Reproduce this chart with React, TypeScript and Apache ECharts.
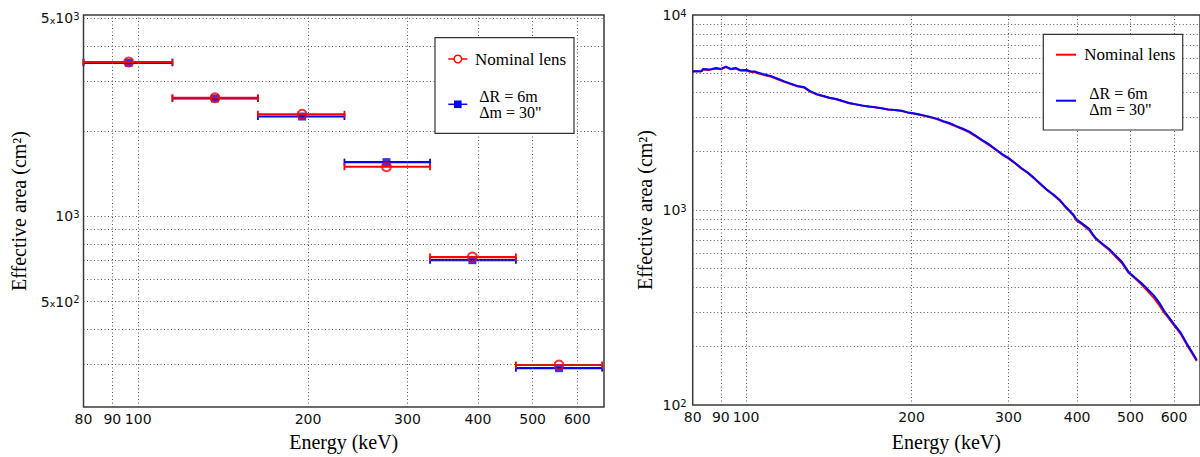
import React, { useEffect, useRef } from 'react';
import * as echarts from 'echarts';

// ---------- data ----------
// left panel: binned effective area
const binLow = [80, 115, 163, 232, 329, 467];
const binHigh = [115, 163, 232, 329, 467, 664];
const binCenter = [96.2, 136.8, 195.2, 275.4, 391, 556.7];
const nominalBinned = [3510, 2624, 2295, 1498, 718.5, 299];
const modifiedBinned = [3487, 2610, 2253, 1555, 701, 291.4];

// right panel: effective area curves
const energies = [
  80, 83, 83.5, 85.8, 88.2, 90, 91.9, 93.8, 95.7, 97.7,
  100.1, 101.8, 103.8, 105.3, 108.2, 111.1, 114.2, 117.4, 120.6, 123.9,
  127.3, 130.8, 134.5, 138.2, 141.9, 145.9, 149.9, 154, 158.2, 162.6,
  167.1, 171.7, 176.5, 181.3, 186.3, 191.4, 196.7, 200.2, 204.9, 210.5,
  216.3, 222.3, 228.4, 234.7, 241.2, 247.9, 254.7, 261.7, 268.9, 276.3,
  283.9, 291.7, 299.8, 308, 316.5, 325.2, 334.2, 343.4, 352.8, 362.5,
  372.5, 382.8, 393.3, 398.8, 409.8, 415.4, 421.1, 426.8, 432.7, 444.6,
  456.8, 469.4, 482.3, 495.6, 509.3, 523.3, 537.7, 552.5, 563.9, 575.6,
  583.4, 599.5, 616, 633, 660,
];
const modifiedCurve = [
  5149, 5149, 5289, 5248, 5351, 5289, 5434, 5289, 5351, 5208,
  5228, 5149, 5129, 5051, 4954, 4859, 4712, 4568, 4446, 4327,
  4278, 4068, 3929, 3840, 3766, 3708, 3623, 3541, 3486, 3433,
  3393, 3368, 3329, 3278, 3258, 3232, 3166, 3141, 3106, 3056,
  2999, 2941, 2852, 2787, 2692, 2610, 2521, 2398, 2280, 2177,
  2055, 1940, 1851, 1747, 1643, 1556, 1457, 1359, 1268, 1197,
  1121, 1026, 950, 896, 846, 822, 798, 753, 716, 671,
  633, 586, 543, 483, 451, 422, 391, 362, 335, 304,
  289, 260.6, 236.6, 206.7, 170,
];
const nominalCurve = [
  5130, 5140, 5260, 5230, 5320, 5270, 5400, 5270, 5320, 5190,
  5200, 5120, 5090, 5010, 4910, 4820, 4680, 4540, 4420, 4310,
  4250, 4050, 3910, 3830, 3750, 3700, 3610, 3530, 3480, 3430,
  3390, 3360, 3320, 3280, 3255, 3225, 3160, 3130, 3095, 3045,
  2985, 2925, 2840, 2770, 2680, 2595, 2500, 2385, 2265, 2160,
  2045, 1930, 1840, 1740, 1635, 1550, 1450, 1350, 1262, 1190,
  1112, 1018, 942, 885, 838, 812, 785, 745, 710, 665,
  625, 578, 535, 478, 447, 416, 383, 352, 325, 298,
  285, 257, 233, 204, 168,
];

// ticks / gridlines
const xTicks = [80, 90, 100, 200, 300, 400, 500, 600];
const xTickLabels = ['80', '90', '100', '200', '300', '400', '500', '600'];
const leftYGrid = [300, 400, 600, 700, 800, 900, 2000, 3000, 4000];
const leftYLabelled = [500, 1000, 5000];
const leftYLabels = ['{b|5}{x|x}{b|10}{s|2}', '{b|10}{s|3}', '{b|5}{x|x}{b|10}{s|3}'];
const rightYGrid = [200, 300, 400, 500, 600, 700, 800, 900, 2000, 3000, 4000, 5000, 6000, 7000, 8000, 9000];
const rightYLabelled = [100, 1000, 10000];
const rightYLabels = ['{b|10}{s|2}', '{b|10}{s|3}', '{b|10}{s|4}'];

const legendNominal = 'Nominal lens';
const legendShift = ['ΔR = 6m', 'Δm = 30"'];

const RED = '#ff0000';
const BLUE = '#0000ff';
const SANS = 'DejaVu Sans';
const SERIF = 'Liberation Serif';
const CLEAR = 'rgba(0,0,0,0)';

const tickRich = {
  b: { fontFamily: SANS, fontSize: 14, color: '#111' },
  x: { fontFamily: SANS, fontSize: 9.5, color: '#111', verticalAlign: 'bottom' },
  s: { fontFamily: SANS, fontSize: 10, color: '#111', verticalAlign: 'top' },
};

function xMarks(edge: number) {
  return xTicks.map((v, i) => ({
    xAxis: v,
    label: {
      show: true,
      formatter: xTickLabels[i],
      position: 'start',
      distance: 5,
      color: '#111',
      fontFamily: SANS,
      fontSize: 14,
    },
    lineStyle: v === edge ? { color: CLEAR } : {},
  }));
}

function yMarks(grid: number[], labelled: number[], labels: string[], hidden: number[], dist: number) {
  const a: any[] = grid.map((v) => ({ yAxis: v, label: { show: false } }));
  labelled.forEach((v, i) => {
    a.push({
      yAxis: v,
      label: {
        show: true,
        formatter: labels[i],
        position: 'start',
        distance: dist,
        rich: tickRich,
      },
      lineStyle: hidden.indexOf(v) >= 0 ? { color: CLEAR } : {},
    });
  });
  return a;
}

const gridLineStyle = { color: '#555', width: 1, type: [1, 2.5] as any };

function errRender(color: string) {
  return (params: any, api: any) => {
    const lo = api.coord([api.value(0), api.value(2)]);
    const hi = api.coord([api.value(1), api.value(2)]);
    const cap = 3.5;
    return {
      type: 'group',
      children: [
        { type: 'line', shape: { x1: lo[0], y1: lo[1], x2: hi[0], y2: hi[1] }, style: { stroke: color, lineWidth: 2.2 } },
        { type: 'line', shape: { x1: lo[0], y1: lo[1] - cap, x2: lo[0], y2: lo[1] + cap }, style: { stroke: color, lineWidth: 1.8 } },
        { type: 'line', shape: { x1: hi[0], y1: hi[1] - cap, x2: hi[0], y2: hi[1] + cap }, style: { stroke: color, lineWidth: 1.8 } },
      ],
    };
  };
}

export default function App() {
  const ref = useRef<HTMLDivElement>(null);
  useEffect(() => {
    if (!ref.current) return;
    const chart = echarts.init(ref.current, undefined, { renderer: 'svg' });

    const axisName = { fontFamily: SERIF, fontSize: 20, color: '#000' };
    const hiddenAxis = {
      axisLine: { show: false },
      axisTick: { show: false },
      axisLabel: { show: false },
      splitLine: { show: false },
    };
    const legendText = { fontFamily: SERIF, fontSize: 17, fill: '#000', verticalAlign: 'middle' };
    const shiftText = { fontFamily: SERIF, fontSize: 16, fill: '#000', verticalAlign: 'middle' };

    const option: any = {
      animation: false,
      backgroundColor: '#fff',
      grid: [
        { left: 83.5, top: 15, width: 520.5, height: 397.7, show: true, borderColor: '#3a3a3a', borderWidth: 1.5, backgroundColor: 'transparent' },
        { left: 692.7, top: 15, width: 520, height: 397.7, show: true, borderColor: '#3a3a3a', borderWidth: 1.5, backgroundColor: 'transparent' },
      ],
      xAxis: [
        { type: 'log', logBase: 10, gridIndex: 0, min: 80, max: 669, name: 'Energy (keV)', nameLocation: 'middle', nameGap: 25, nameTextStyle: axisName, ...hiddenAxis },
        { type: 'log', logBase: 10, gridIndex: 1, min: 80, max: 669, name: 'Energy (keV)', nameLocation: 'middle', nameGap: 27, nameTextStyle: axisName, ...hiddenAxis },
      ],
      yAxis: [
        { type: 'log', logBase: 10, gridIndex: 0, min: 212.5, max: 5142, name: 'Effective area (cm²)', nameLocation: 'middle', nameRotate: 90, nameGap: 55, nameTextStyle: axisName, ...hiddenAxis },
        { type: 'log', logBase: 10, gridIndex: 1, min: 100, max: 10000, name: 'Effective area (cm²)', nameLocation: 'middle', nameRotate: 90, nameGap: 38, nameTextStyle: axisName, ...hiddenAxis },
      ],
      series: [
        // gridlines + tick labels, left
        {
          type: 'line', xAxisIndex: 0, yAxisIndex: 0, data: [[200, 1000]], showSymbol: false, silent: true, z: 1,
          lineStyle: { opacity: 0 },
          markLine: { silent: true, symbol: ['none', 'none'], animation: false, lineStyle: gridLineStyle, data: [...xMarks(80), ...yMarks(leftYGrid, leftYLabelled, leftYLabels, [], 4)] },
        },
        // gridlines + tick labels, right
        {
          type: 'line', xAxisIndex: 1, yAxisIndex: 1, data: [[200, 1000]], showSymbol: false, silent: true, z: 1,
          lineStyle: { opacity: 0 },
          markLine: { silent: true, symbol: ['none', 'none'], animation: false, lineStyle: gridLineStyle, data: [...xMarks(80), ...yMarks(rightYGrid, rightYLabelled, rightYLabels, [100, 10000], 6)] },
        },
        // left: modified (blue)
        {
          type: 'custom', name: 'mod-err', xAxisIndex: 0, yAxisIndex: 0, z: 3,
          renderItem: errRender(BLUE),
          encode: { x: [0, 1], y: 2 },
          data: binLow.map((lo, i) => [lo, binHigh[i], modifiedBinned[i]]),
        },
        {
          type: 'scatter', name: 'mod-pt', xAxisIndex: 0, yAxisIndex: 0, z: 3,
          symbol: 'rect', symbolSize: 8, itemStyle: { color: BLUE },
          data: binCenter.map((c, i) => [c, modifiedBinned[i]]),
        },
        // left: nominal (red)
        {
          type: 'custom', name: 'nom-err', xAxisIndex: 0, yAxisIndex: 0, z: 4,
          renderItem: errRender(RED),
          encode: { x: [0, 1], y: 2 },
          data: binLow.map((lo, i) => [lo, binHigh[i], nominalBinned[i]]),
        },
        {
          type: 'scatter', name: 'nom-pt', xAxisIndex: 0, yAxisIndex: 0, z: 4,
          symbol: 'circle', symbolSize: 9,
          itemStyle: { color: CLEAR, borderColor: RED, borderWidth: 2 },
          data: binCenter.map((c, i) => [c, nominalBinned[i]]),
        },
        // right: curves
        {
          type: 'line', name: 'nom-curve', xAxisIndex: 1, yAxisIndex: 1, z: 3, showSymbol: false,
          lineStyle: { color: RED, width: 2 },
          data: energies.map((e, i) => [e, nominalCurve[i]]),
        },
        {
          type: 'line', name: 'mod-curve', xAxisIndex: 1, yAxisIndex: 1, z: 4, showSymbol: false,
          lineStyle: { color: BLUE, width: 2 },
          data: energies.map((e, i) => [e, modifiedCurve[i]]),
        },
      ],
      graphic: [
        // left legend
        { type: 'rect', z: 100, shape: { x: 435, y: 37.7, width: 139, height: 95.6 }, style: { fill: '#fff', stroke: '#333', lineWidth: 1.2 } },
        { type: 'line', z: 101, shape: { x1: 448.3, y1: 59, x2: 467.3, y2: 59 }, style: { stroke: RED, lineWidth: 1.5 } },
        { type: 'circle', z: 102, shape: { cx: 457.8, cy: 59, r: 3.8 }, style: { fill: '#fff', stroke: RED, lineWidth: 1.5 } },
        { type: 'text', z: 102, style: { x: 475, y: 59, text: legendNominal, ...legendText } },
        { type: 'line', z: 101, shape: { x1: 448.3, y1: 104.3, x2: 467.3, y2: 104.3 }, style: { stroke: BLUE, lineWidth: 1.5 } },
        { type: 'rect', z: 102, shape: { x: 454, y: 100.5, width: 7.6, height: 7.6 }, style: { fill: BLUE } },
        { type: 'text', z: 102, style: { x: 479.3, y: 96.5, text: legendShift[0], ...shiftText } },
        { type: 'text', z: 102, style: { x: 479.3, y: 112.6, text: legendShift[1], ...shiftText } },
        // right legend
        { type: 'rect', z: 100, shape: { x: 1043.3, y: 34.3, width: 139.4, height: 95.7 }, style: { fill: '#fff', stroke: '#333', lineWidth: 1.2 } },
        { type: 'line', z: 101, shape: { x1: 1056, y1: 54.7, x2: 1076, y2: 54.7 }, style: { stroke: RED, lineWidth: 2 } },
        { type: 'text', z: 102, style: { x: 1084.3, y: 54.7, text: legendNominal, ...legendText } },
        { type: 'line', z: 101, shape: { x1: 1056, y1: 100.7, x2: 1076, y2: 100.7 }, style: { stroke: BLUE, lineWidth: 2 } },
        { type: 'text', z: 102, style: { x: 1089.3, y: 93.5, text: legendShift[0], ...shiftText } },
        { type: 'text', z: 102, style: { x: 1089.3, y: 109.6, text: legendShift[1], ...shiftText } },
      ],
    };

    chart.setOption(option);
    return () => chart.dispose();
  }, []);

  return <div ref={ref} style={{ position: 'fixed', left: 0, top: 0, width: 1200, height: 457 }} />;
}
